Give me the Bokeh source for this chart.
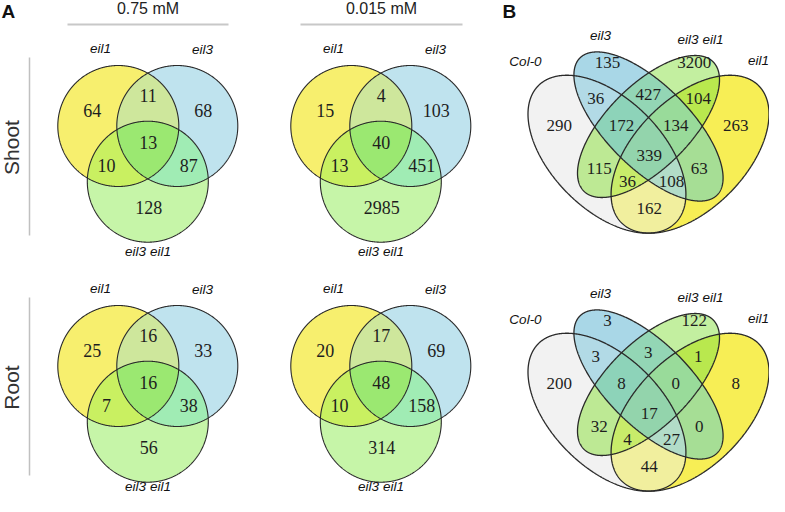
import numpy as np
from bokeh.plotting import figure
from bokeh.models import Range1d
from bokeh.core.properties import value
from bokeh.embed import file_html
from bokeh.resources import INLINE

# ---------------- data ----------------
concentrations = ["0.75 mM", "0.015 mM"]
tissues = ["Shoot", "Root"]
set_names_3 = ["eil1", "eil3", "eil3 eil1"]
# region order: eil1, eil3, eil3eil1, eil1&eil3, eil1&eil3eil1, eil3&eil3eil1, all three
shoot_075 = [64, 68, 128, 11, 10, 87, 13]
shoot_0015 = [15, 103, 2985, 4, 13, 451, 40]
root_075 = [25, 33, 56, 16, 7, 38, 16]
root_0015 = [20, 69, 314, 17, 10, 158, 48]

set_names_4 = ["Col-0", "eil3", "eil3 eil1", "eil1"]
# region order: A, B, C, D, AB, AC, AD, BC, BD, CD, ABC, ABD, ACD, BCD, ABCD
shoot_all = [290, 135, 3200, 263, 36, 115, 162, 427, 63, 104, 172, 108, 36, 134, 339]
root_all = [200, 3, 122, 8, 3, 32, 44, 3, 0, 1, 8, 27, 4, 0, 17]

# ---------------- layout ----------------
regions3 = [(0,), (1,), (2,), (0, 1), (0, 2), (1, 2), (0, 1, 2)]
regions4 = [(0,), (1,), (2,), (3,), (0, 1), (0, 2), (0, 3), (1, 2), (1, 3), (2, 3),
            (0, 1, 2), (0, 1, 3), (0, 2, 3), (1, 2, 3), (0, 1, 2, 3)]

R3 = 60.5
circ_centers = [(117.8, 125.5), (176.8, 125.5), (147.3, 181.2)]
lab3_pos = [(91.7, 110), (202.7, 110), (148.3, 206.7), (147.7, 95), (106, 165), (188.3, 165), (147.7, 141.7)]
set3_pos = [(100, 48), (202, 49), (147.5, 251)]
colors3 = {(0,): "#F7EF6E", (1,): "#BFE3EE", (2,): "#C6F5A8", (0, 1): "#CEE79C",
           (0, 2): "#C9F061", (1, 2): "#A0ECB4", (0, 1, 2): "#9BE871"}

S = 277.0
ic = (656.0, 126.0)
q = np.sqrt(0.5)
ell4 = [
    dict(cx=ic[0] - 0.15 * S, cy=ic[1] + 0.10 * S, a=0.35 * S, b=0.20 * S, ux=q, uy=q),
    dict(cx=ic[0], cy=ic[1], a=0.35 * S, b=0.15 * S, ux=q, uy=q),
    dict(cx=ic[0], cy=ic[1], a=0.33 * S, b=0.15 * S, ux=q, uy=-q),
    dict(cx=ic[0] + 0.15 * S, cy=ic[1] + 0.10 * S, a=0.35 * S, b=0.20 * S, ux=q, uy=-q),
]
lab4_pos = [(566.7, 125), (615, 61.7), (701.7, 61.7), (743.3, 125), (603.3, 98.3), (606.7, 168.3),
            (656.7, 208.3), (655.7, 94.3), (706.7, 168.3), (705.7, 98.3), (629, 125), (679, 181),
            (635, 181), (683.3, 125), (656.7, 155)]
set4_pos = [(533, 61), (608, 35), (708, 39), (766, 60)]
colors4 = {(0,): "#F2F2F2", (1,): "#A9D7E7", (2,): "#C3EFA0", (3,): "#F7EE55",
           (0, 1): "#B2DAE6", (0, 2): "#BDE994", (0, 3): "#F1EF9E", (1, 2): "#93D6B5",
           (1, 3): "#A6DE95", (2, 3): "#B9E84E", (0, 1, 2): "#8DD3B9", (0, 1, 3): "#B2DCC8",
           (0, 2, 3): "#C8EC6A", (1, 2, 3): "#99DB9A", (0, 1, 2, 3): "#93D4AC"}

ROW_DY = [0, 240]      # panel A row offsets
COL_DX = [0, 233]      # panel A column offsets
B_DX = -8              # panel B horizontal offset (keeps it inside the canvas)
B_DY = [0, 258]        # panel B row offsets
LABEL_MAX_Y = 486


def boundary(sh, n=900):
    t = np.linspace(0, 2 * np.pi, n, endpoint=False)
    vx, vy = -sh["uy"], sh["ux"]
    x = sh["cx"] + sh["a"] * np.cos(t) * sh["ux"] + sh["b"] * np.sin(t) * vx
    y = sh["cy"] + sh["a"] * np.cos(t) * sh["uy"] + sh["b"] * np.sin(t) * vy
    return np.column_stack([x, y])


def inside(sh, P):
    dx = P[:, 0] - sh["cx"]
    dy = P[:, 1] - sh["cy"]
    s = dx * sh["ux"] + dy * sh["uy"]
    t = -dx * sh["uy"] + dy * sh["ux"]
    return (s / sh["a"]) ** 2 + (t / sh["b"]) ** 2 <= 1 + 1e-7


def inter_poly(shapes, idx):
    pts = []
    for i in idx:
        P = boundary(shapes[i])
        m = np.ones(len(P), bool)
        for j in idx:
            if j != i:
                m &= inside(shapes[j], P)
        pts.append(P[m])
    P = np.vstack(pts)
    c = P.mean(axis=0)
    o = np.argsort(np.arctan2(P[:, 1] - c[1], P[:, 0] - c[0]))
    return P[o]


p = figure(width=769, height=496, x_range=Range1d(0, 769), y_range=Range1d(496, 0),
           output_backend="svg", toolbar_location=None, min_border=0,
           x_axis_location=None, y_axis_location=None)
p.grid.visible = False
p.outline_line_color = None
p.background_fill_color = "white"

NUMFONT = value("Liberation Serif")
SANS = value("Liberation Sans")


def draw_venn(shapes, regions, colors, counts, lab_pos, names, name_pos, dx, dy, num_size, lw):
    xs, ys, fc = [], [], []
    for reg in sorted(regions, key=len):
        P = inter_poly(shapes, reg)
        xs.append(list(P[:, 0]))
        ys.append(list(P[:, 1]))
        fc.append(colors[reg])
    p.patches(xs, ys, fill_color=fc, line_color=None)
    ox, oy = [], []
    for sh in shapes:
        P = boundary(sh)
        ox.append(list(P[:, 0]))
        oy.append(list(P[:, 1]))
    p.patches(ox, oy, fill_alpha=0, line_color="#2a2a2a", line_width=lw)
    p.text([x + dx for x, y in lab_pos], [y + dy for x, y in lab_pos], text=[str(v) for v in counts],
           text_font=NUMFONT, text_font_size=num_size, text_align="center",
           text_baseline="middle", text_color="#1e1e1e")
    p.text([x + dx for x, y in name_pos], [min(y + dy, LABEL_MAX_Y) for x, y in name_pos], text=names,
           text_font=SANS, text_font_style="italic", text_font_size="13.5px",
           text_align="center", text_baseline="middle", text_color="#111111")


# Panel A
grid = [[shoot_075, shoot_0015], [root_075, root_0015]]
for r in range(2):
    for c in range(2):
        shapes = [dict(cx=cx + COL_DX[c], cy=cy + ROW_DY[r], a=R3, b=R3, ux=1.0, uy=0.0)
                  for cx, cy in circ_centers]
        draw_venn(shapes, regions3, colors3, grid[r][c],
                  lab3_pos, set_names_3, set3_pos, COL_DX[c], ROW_DY[r], "18px", 1.1)

# Panel B
for r, counts in enumerate([shoot_all, root_all]):
    shapes = [dict(sh, cx=sh["cx"] + B_DX, cy=sh["cy"] + B_DY[r]) for sh in ell4]
    draw_venn(shapes, regions4, colors4, counts, lab4_pos, set_names_4, set4_pos, B_DX, B_DY[r], "17px", 1.3)

# headers, separators, panel letters
p.text([147.5, 381], [8, 8], text=concentrations, text_font=SANS, text_font_size="16px",
       text_align="center", text_baseline="middle", text_color="#222222")
p.segment(x0=[67, 300], y0=[24, 24], x1=[228, 462], y1=[24, 24], line_color="#C8C8C8", line_width=2)
p.segment(x0=[29, 29], y0=[57, 57 + ROW_DY[1]], x1=[29, 29], y1=[235, 235 + ROW_DY[1]],
          line_color="#C0C0C0", line_width=1.5)
p.text([11, 11], [147, 147 + ROW_DY[1]], text=tissues, angle=np.pi / 2, text_font=SANS,
       text_font_size="21px", text_align="center", text_baseline="middle", text_color="#333333")
p.text([1, 502], [11, 11], text=["A", "B"], text_font=SANS, text_font_style="bold",
       text_font_size="19px", text_align="left", text_baseline="middle", text_color="#111111")

open("out.html", "w").write(file_html(p, INLINE))
